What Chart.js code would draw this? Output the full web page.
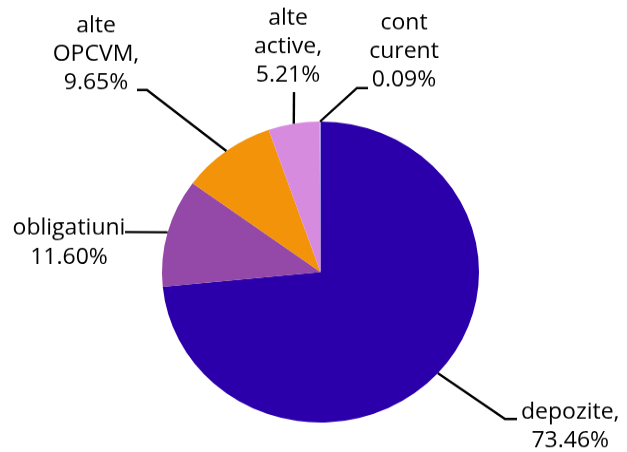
<!DOCTYPE html>
<html>
<head>
<meta charset="utf-8">
<script src="https://cdn.jsdelivr.net/npm/chart.js@4/dist/chart.umd.min.js"></script>
<style>
  html, body { margin: 0; padding: 0; background: #fff; overflow: hidden; }
  #wrap { width: 627px; height: 476px; transform: scaleY(0.9495); transform-origin: 0 0; }
</style>
</head>
<body>
<div id="wrap"><canvas id="c" width="627" height="476"></canvas></div>
<script>
// Data
const categories = ["depozite", "obligatiuni", "alte OPCVM", "alte active", "cont curent"];
const shares = [73.46, 11.60, 9.65, 5.21, 0.09];
const colors = ["#2B00AB", "#9448A8", "#F29309", "#D68BDE", "#A8A0E8"];
// Label text lines (as shown in the picture)
const labelLines = [
  ["depozite,", "73.46%"],
  ["obligatiuni", "11.60%"],
  ["alte", "OPCVM,", "9.65%"],
  ["alte", "active,", "5.21%"],
  ["cont", "curent", "0.09%"]
];

const SY = 0.9495; // vertical squash of the picture
// Label placement (display coordinates): text centre x, first baseline y, align; leader elbow and end
const labelLayout = [
  { x: 521, y: 419, align: "left", elbow: [505, 419], end: [517, 419] },
  { x: 69, y: 235, align: "center", elbow: [125, 232], end: [125, 232] },
  { x: 96, y: 32, align: "center", elbow: [147, 90], end: [137, 90] },
  { x: 288, y: 25, align: "center", elbow: [294, 92], end: [294, 92] },
  { x: 404, y: 29, align: "center", elbow: [357, 88], end: [368, 88] }
];
const LINE_H = 28.5;

const labelPlugin = {
  id: "pieLabels",
  afterDatasetsDraw(chart) {
    const ctx = chart.ctx;
    const meta = chart.getDatasetMeta(0);
    ctx.save();
    ctx.font = "23px 'Open Sans'";
    ctx.fillStyle = "#000";
    ctx.strokeStyle = "#000";
    ctx.lineWidth = 2.4;
    meta.data.forEach((arc, i) => {
      const p = arc.getProps(["x", "y", "startAngle", "endAngle", "outerRadius"], true);
      const mid = (p.startAngle + p.endAngle) / 2;
      const ax = p.x + Math.cos(mid) * p.outerRadius;
      const ay = p.y + Math.sin(mid) * p.outerRadius;
      const L = labelLayout[i];
      ctx.beginPath();
      ctx.moveTo(ax, ay);
      ctx.lineTo(L.elbow[0], L.elbow[1] / SY);
      ctx.lineTo(L.end[0], L.end[1] / SY);
      ctx.stroke();
      ctx.textBaseline = "alphabetic";
      const lines = labelLines[i];
      lines.forEach((t, k) => {
        const y = (L.y + k * LINE_H) / SY;
        ctx.textAlign = "center";
        if (L.align === "left") {
          const w0 = ctx.measureText(lines[0]).width;
          ctx.fillText(t, L.x + w0 / 2, y);
        } else {
          ctx.fillText(t, L.x, y);
        }
      });
    });
    ctx.restore();
  }
};

new Chart(document.getElementById("c"), {
  type: "pie",
  data: {
    labels: categories,
    datasets: [{
      data: shares,
      backgroundColor: colors,
      borderWidth: 0
    }]
  },
  options: {
    responsive: false,
    animation: false,
    layout: { padding: { left: 162, right: 148, top: 128, bottom: 31 } },
    plugins: { legend: { display: false }, tooltip: { enabled: false } }
  },
  plugins: [labelPlugin]
});
</script>
</body>
</html>
